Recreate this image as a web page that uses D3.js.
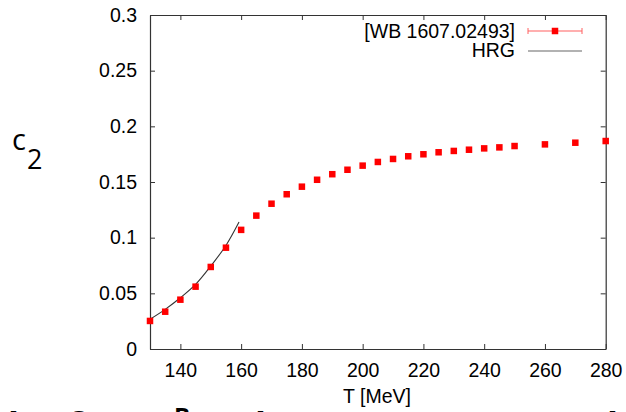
<!DOCTYPE html>
<html>
<head>
<meta charset="utf-8">
<script src="https://cdn.jsdelivr.net/npm/d3@7"></script>
<style>
  html, body { margin: 0; padding: 0; background: #fff; }
  svg { display: block; }
</style>
</head>
<body>
<script>
// ---- data ----
const wbT = [130,135,140,145,150,155,160,165,170,175,180,185,190,195,200,205,210,215,220,225,230,235,240,245,250,260,270,280];
const wbC2 = [0.0252,0.0335,0.0443,0.0560,0.0737,0.0910,0.1070,0.1198,0.1305,0.1390,0.1458,0.1520,0.1570,0.1610,0.1647,0.1680,0.1707,0.1731,0.1749,0.1767,0.1779,0.1790,0.1802,0.1811,0.1823,0.1838,0.1853,0.1868];
const hrgT = [130,135,140,145,150,155,159.3];
const hrgC2 = [0.0267,0.0356,0.0460,0.0580,0.0745,0.0930,0.1140];
const xTicks = [140,160,180,200,220,240,260,280];
const yTicks = [0,0.05,0.1,0.15,0.2,0.25,0.3];
const legendLabels = ["[WB 1607.02493]", "HRG"];

const W = 626, H = 412;
const m = {left:150, top:15, right:W-605.7, bottom:H-349};
const svg = d3.select("body").append("svg").attr("width", W).attr("height", H);

const x = d3.scaleLinear().domain([130,280]).range([m.left, W-m.right]);
const y = d3.scaleLinear().domain([0,0.3]).range([H-m.bottom, m.top]);

const font = "'Liberation Sans', Arial, Helvetica, sans-serif";
const frameCol = "#333";

// axes
function styleAxis(g, showLabels) {
  g.select(".domain").attr("stroke", frameCol).attr("stroke-width", 1.2);
  g.selectAll(".tick line").attr("stroke", frameCol).attr("stroke-width", 1);
  g.selectAll(".tick text").attr("fill", "#000").style("font-family", font).style("font-size", "19.5px");
  if (!showLabels) g.selectAll(".tick text").remove();
}
svg.append("g").attr("transform", `translate(0,${y(0)})`)
  .call(d3.axisBottom(x).tickValues(xTicks).tickSize(-5).tickPadding(14).tickSizeOuter(0).tickFormat(d3.format("d")))
  .call(g => styleAxis(g, true));
svg.append("g").attr("transform", `translate(0,${y(0.3)})`)
  .call(d3.axisTop(x).tickValues(xTicks).tickSize(-5).tickSizeOuter(0))
  .call(g => styleAxis(g, false));
svg.append("g").attr("transform", `translate(${x(130)},0)`)
  .call(d3.axisLeft(y).tickValues(yTicks).tickSize(-5).tickPadding(13).tickSizeOuter(0).tickFormat(d => d === 0 ? "0" : String(+d.toFixed(2))))
  .call(g => styleAxis(g, true));
svg.append("g").attr("transform", `translate(${x(280)},0)`)
  .call(d3.axisRight(y).tickValues(yTicks).tickSize(-5).tickSizeOuter(0))
  .call(g => styleAxis(g, false));

// HRG line
const hrg = hrgT.map((t,i) => [t, hrgC2[i]]);
svg.append("path").datum(hrg)
  .attr("fill", "none").attr("stroke", "#333").attr("stroke-width", 1.1)
  .attr("d", d3.line().x(d => x(d[0])).y(d => y(d[1])).curve(d3.curveCatmullRom));

// WB points
const wb = wbT.map((t,i) => [t, wbC2[i]]);
const sq = 6.5;
svg.append("g").selectAll("rect").data(wb).join("rect")
  .attr("x", d => x(d[0]) - sq/2).attr("y", d => y(d[1]) - sq/2)
  .attr("width", sq).attr("height", sq).attr("fill", "#ff0000");

// legend
const lg = svg.append("g");
lg.append("text").attr("x", 515).attr("y", 38).attr("text-anchor", "end")
  .style("font-family", font).style("font-size", "19.5px").text(legendLabels[0]);
lg.append("text").attr("x", 515).attr("y", 57).attr("text-anchor", "end")
  .style("font-family", font).style("font-size", "19.5px").text(legendLabels[1]);
lg.append("line").attr("x1", 528).attr("x2", 582).attr("y1", 31).attr("y2", 31).attr("stroke", "#ff6060").attr("stroke-width", 1.2);
lg.append("line").attr("x1", 528).attr("x2", 528).attr("y1", 28).attr("y2", 34).attr("stroke", "#ff6060");
lg.append("line").attr("x1", 582).attr("x2", 582).attr("y1", 28).attr("y2", 34).attr("stroke", "#ff6060");
lg.append("rect").attr("x", 555 - sq/2).attr("y", 31 - sq/2).attr("width", sq).attr("height", sq).attr("fill", "#ff0000");
lg.append("line").attr("x1", 528).attr("x2", 582).attr("y1", 51).attr("y2", 51).attr("stroke", "#666").attr("stroke-width", 1.2);

// axis titles
svg.append("text").attr("x", 343).attr("y", 403)
  .style("font-family", font).style("font-size", "19.5px").text("T [MeV]");
const c2 = svg.append("text").attr("x", 12).attr("y", 150)
  .style("font-family", "'Open Sans', sans-serif").style("font-size", "29px").attr("fill", "#000");
c2.append("tspan").text("c");
c2.append("tspan").attr("dy", 19).attr("dx", 1).style("font-size", "27px").text("2");

// slide title partially cut off at bottom
const cut = [
  {x: 8, t: "lt"}, {x: 68, t: "f"}, {x: 255, t: "l"}, {x: 513, t: "O"}, {x: 607, t: "l"}
];
svg.append("g").selectAll("text").data(cut).join("text")
  .attr("x", d => d.x).attr("y", 438)
  .style("font-family", "'Open Sans', sans-serif").style("font-weight", "bold").style("font-size", "36px")
  .text(d => d.t);
svg.append("text").attr("x", 174).attr("y", 425)
  .style("font-family", "'Open Sans', sans-serif").style("font-weight", "bold").style("font-size", "24px").text("B");
</script>
</body>
</html>
